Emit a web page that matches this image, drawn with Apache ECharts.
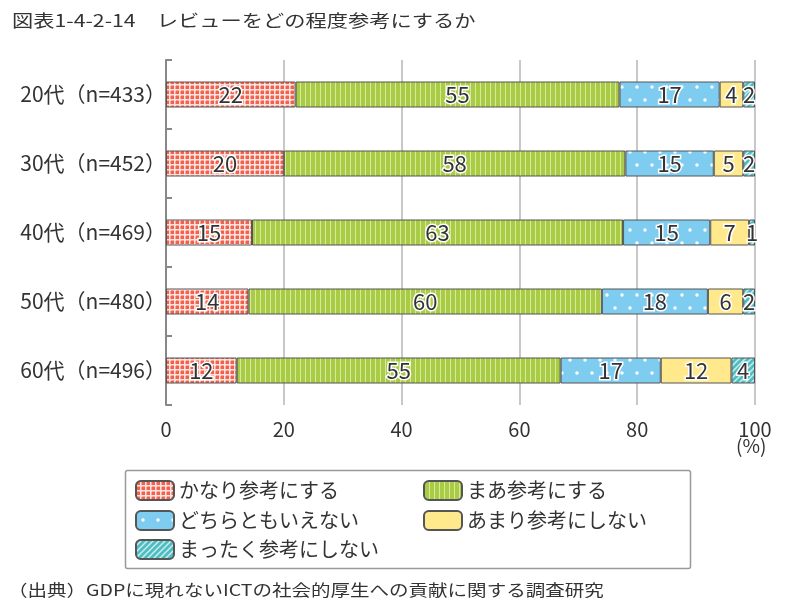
<!DOCTYPE html>
<html>
<head>
<meta charset="utf-8">
<script src="https://cdn.jsdelivr.net/npm/echarts@6/dist/echarts.min.js"></script>
<style>
  html, body { margin: 0; padding: 0; background: #fff; }
  #chart { width: 800px; height: 609px; }
</style>
</head>
<body>
<div id="chart"></div>
<script>
// データ（40代は表示が四捨五入で合計101なので、棒の長さは図から読んだ値）
const categories = ["20代（n=433）", "30代（n=452）", "40代（n=469）", "50代（n=480）", "60代（n=496）"];
const seriesNames = ["かなり参考にする", "まあ参考にする", "どちらともいえない", "あまり参考にしない", "まったく参考にしない"];
const kanari = [22, 20, 14.6, 14, 12];
const maa = [55, 58, 63, 60, 55];
const dochira = [17, 15, 14.8, 18, 17];
const amari = [4, 5, 6.6, 6, 12];
const mattaku = [2, 2, 1, 2, 4];
const xTicks = [0, 20, 40, 60, 80, 100];

const FONT = '"Noto Sans CJK JP", "Noto Sans", sans-serif';

// パターン用のcanvasを作る
function makePattern(w, h, draw) {
  const c = document.createElement("canvas");
  c.width = w;
  c.height = h;
  draw(c.getContext("2d"));
  return { image: c, repeat: "repeat" };
}

const redCheck = makePattern(5, 5, (ctx) => {
  ctx.fillStyle = "#fde3de";
  ctx.fillRect(0, 0, 5, 5);
  ctx.fillStyle = "#f4604b";
  ctx.fillRect(1, 1, 3, 3);
  ctx.fillStyle = "#f8a397";
  ctx.fillRect(0, 1, 1, 3);
  ctx.fillRect(1, 0, 3, 1);
});
const greenStripe = makePattern(5, 2, (ctx) => {
  ctx.fillStyle = "#a9cb45";
  ctx.fillRect(0, 0, 5, 2);
  ctx.fillStyle = "#d6ea9c";
  ctx.fillRect(0, 0, 1, 2);
});
const blueDots = makePattern(30, 26, (ctx) => {
  ctx.fillStyle = "#7ecdf0";
  ctx.fillRect(0, 0, 30, 26);
  ctx.fillStyle = "#ffffff";
  ctx.beginPath();
  ctx.arc(7, 9, 1.7, 0, Math.PI * 2);
  ctx.arc(22, 9, 1.7, 0, Math.PI * 2);
  ctx.fill();
  ctx.beginPath();
  ctx.arc(0, 22, 1.7, 0, Math.PI * 2);
  ctx.arc(15, 22, 1.7, 0, Math.PI * 2);
  ctx.arc(30, 22, 1.7, 0, Math.PI * 2);
  ctx.fill();
});
const yellowFill = "#ffe98c";
const tealStripe = makePattern(6, 6, (ctx) => {
  ctx.fillStyle = "#4fbcc2";
  ctx.fillRect(0, 0, 6, 6);
  ctx.strokeStyle = "#c6eef0";
  ctx.lineWidth = 1.5;
  ctx.beginPath();
  ctx.moveTo(-1, 7); ctx.lineTo(7, -1);
  ctx.moveTo(-1, 1); ctx.lineTo(1, -1);
  ctx.moveTo(5, 7); ctx.lineTo(7, 5);
  ctx.stroke();
});

const fills = [redCheck, greenStripe, blueDots, yellowFill, tealStripe];
const values = [kanari, maa, dochira, amari, mattaku];

const chart = echarts.init(document.getElementById("chart"));

const series = seriesNames.map((name, i) => ({
  name: name,
  type: "bar",
  stack: "total",
  barWidth: 26,
  data: values[i],
  itemStyle: { color: fills[i], borderColor: "#555", borderWidth: 1 },
  label: {
    show: true,
    position: "inside",
    color: "#333",
    fontSize: 22,
    fontFamily: FONT,
    textBorderColor: "#fff",
    textBorderWidth: 3,
    formatter: (p) => Math.round(p.value)
  },
  emphasis: { disabled: true }
}));

// 凡例は1項目ずつ置く
const legendPos = [[130, 475], [418, 475], [130, 505], [418, 505], [130, 534]];
const legends = seriesNames.map((name, i) => ({
  data: [name],
  left: legendPos[i][0],
  top: legendPos[i][1],
  itemWidth: 38,
  itemHeight: 19,
  selectedMode: false,
  textStyle: { fontSize: 20, color: "#333", fontFamily: FONT }
}));

chart.setOption({
  animation: false,
  textStyle: { fontFamily: FONT },
  legend: legends,
  grid: { left: 166, right: 45, top: 60, bottom: 204 },
  xAxis: {
    type: "value",
    min: xTicks[0],
    max: xTicks[xTicks.length - 1],
    interval: 20,
    axisLine: { show: false },
    axisTick: { show: false },
    axisLabel: { fontSize: 20, color: "#333", margin: 14, fontFamily: FONT },
    splitLine: { show: true, lineStyle: { color: "#c8c8c8", width: 2 } }
  },
  yAxis: {
    type: "category",
    inverse: true,
    data: categories,
    axisLine: { show: true, onZero: false, lineStyle: { color: "#888", width: 2 } },
    axisTick: { show: true, inside: true, length: 6, lineStyle: { color: "#888", width: 2 } },
    axisLabel: { fontSize: 21, color: "#333", margin: 0, fontFamily: FONT }
  },
  graphic: [
    {
      type: "text",
      x: 12,
      y: 21,
      scaleX: 1.25,
      style: {
        text: "図表1-4-2-14　レビューをどの程度参考にするか",
        fontSize: 17,
        fill: "#333",
        fontFamily: FONT,
        verticalAlign: "middle"
      }
    },
    {
      type: "rect",
      left: 123,
      top: 468,
      shape: { width: 565, height: 98, r: 2 },
      style: { fill: "none", stroke: "#999", lineWidth: 1.5 },
      z: -1
    },
    {
      type: "text",
      left: 736,
      top: 436,
      style: { text: "(%)", fontSize: 19, fill: "#333", fontFamily: FONT }
    },
    {
      type: "text",
      x: 8,
      y: 590,
      scaleX: 1.22,
      style: {
        text: "（出典）GDPに現れないICTの社会的厚生への貢献に関する調査研究",
        fontSize: 16,
        fill: "#333",
        fontFamily: FONT,
        verticalAlign: "middle"
      }
    }
  ],
  series: series
});
</script>
</body>
</html>
